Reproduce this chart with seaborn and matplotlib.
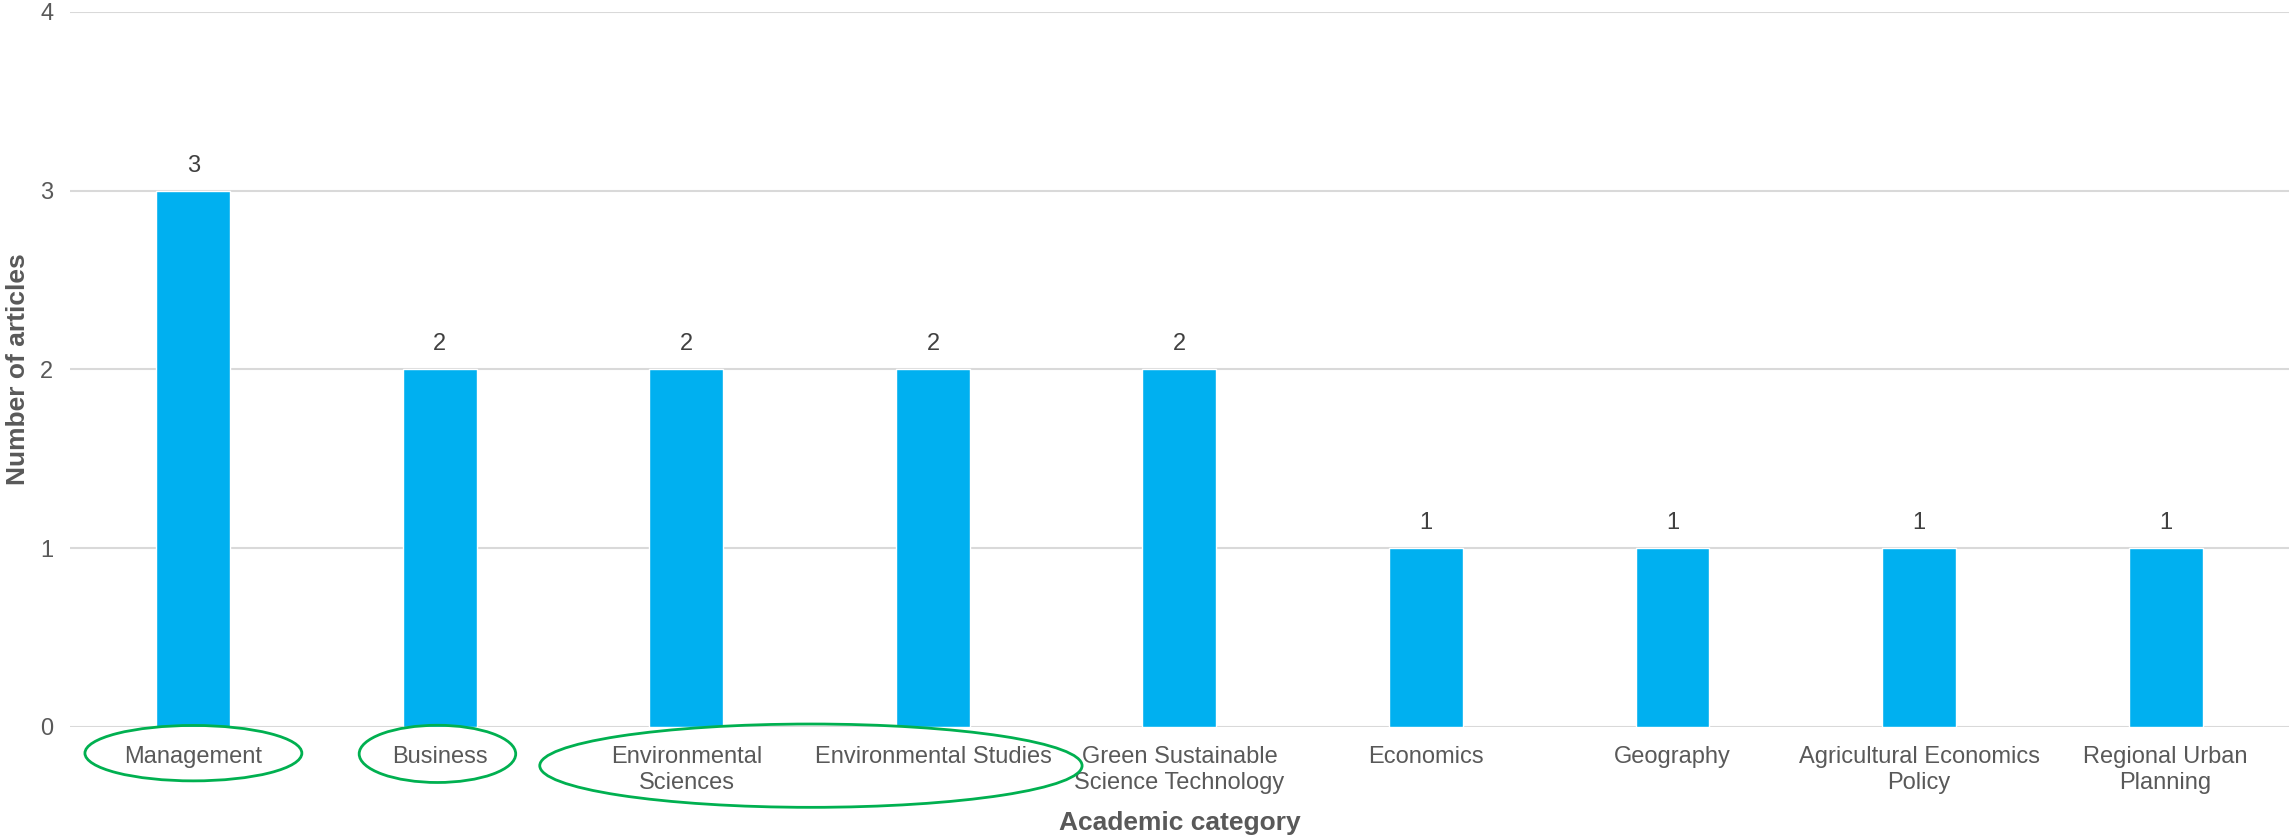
import matplotlib
matplotlib.use("Agg")
import matplotlib.pyplot as plt
from matplotlib.patches import Ellipse
import seaborn as sns
import pandas as pd

categories = [
    "Management",
    "Business",
    "Environmental\nSciences",
    "Environmental Studies",
    "Green Sustainable\nScience Technology",
    "Economics",
    "Geography",
    "Agricultural Economics\nPolicy",
    "Regional Urban\nPlanning",
]
articles = [3, 2, 2, 2, 2, 1, 1, 1, 1]

# highlighted groups: (centre index, width in categories, y centre, height)
highlights = [
    (0.0, 0.88, -0.147, 0.31),
    (0.99, 0.635, -0.151, 0.32),
    (2.505, 2.2, -0.217, 0.466),
]

sns.set_theme(style="white")
plt.rcParams["font.family"] = ["Liberation Sans", "DejaVu Sans"]

TEXT = "#595959"
BAR = "#00B0F0"
GRID = "#D9D9D9"
GREEN = "#00B050"

df = pd.DataFrame({"category": categories, "articles": articles})

fig = plt.figure(figsize=(22.92, 8.38), dpi=100)
ax = fig.add_axes([0.0306, 0.1326, 0.968, 0.8534])

sns.barplot(data=df, x="category", y="articles", color=BAR, width=0.3,
            saturation=1, ax=ax, zorder=3)

ax.set_xlim(-0.5, len(categories) - 0.5)
ax.set_ylim(0, 4)
ax.set_yticks([0, 1, 2, 3, 4])
ax.yaxis.grid(True, color=GRID, linewidth=1.5, zorder=0)
ax.set_axisbelow(True)
for s in ax.spines.values():
    s.set_visible(False)

ax.tick_params(axis="x", length=0, pad=14, labelsize=17, labelcolor=TEXT)
ax.tick_params(axis="y", length=0, pad=12, labelsize=17, labelcolor=TEXT)
for lbl in ax.get_xticklabels():
    lbl.set_multialignment("center")

ax.set_xlabel("Academic category", fontsize=19, fontweight="bold", color=TEXT)
ax.set_ylabel("Number of articles", fontsize=19, fontweight="bold", color=TEXT)
ax.xaxis.set_label_coords(0.5, -0.134)
ax.yaxis.set_label_coords(-0.0235, 0.5)
ax.xaxis.label.set_va("center")
ax.yaxis.label.set_va("center")

for cont in ax.containers:
    ax.bar_label(cont, fmt="%d", padding=10, fontsize=17, color="#404040")

for cx, w, cy, h in highlights:
    ax.add_patch(Ellipse((cx, cy), w, h, transform=ax.transData, fill=False,
                         edgecolor=GREEN, linewidth=2, clip_on=False, zorder=5))

fig.savefig("out.png", dpi=100, facecolor="white")
